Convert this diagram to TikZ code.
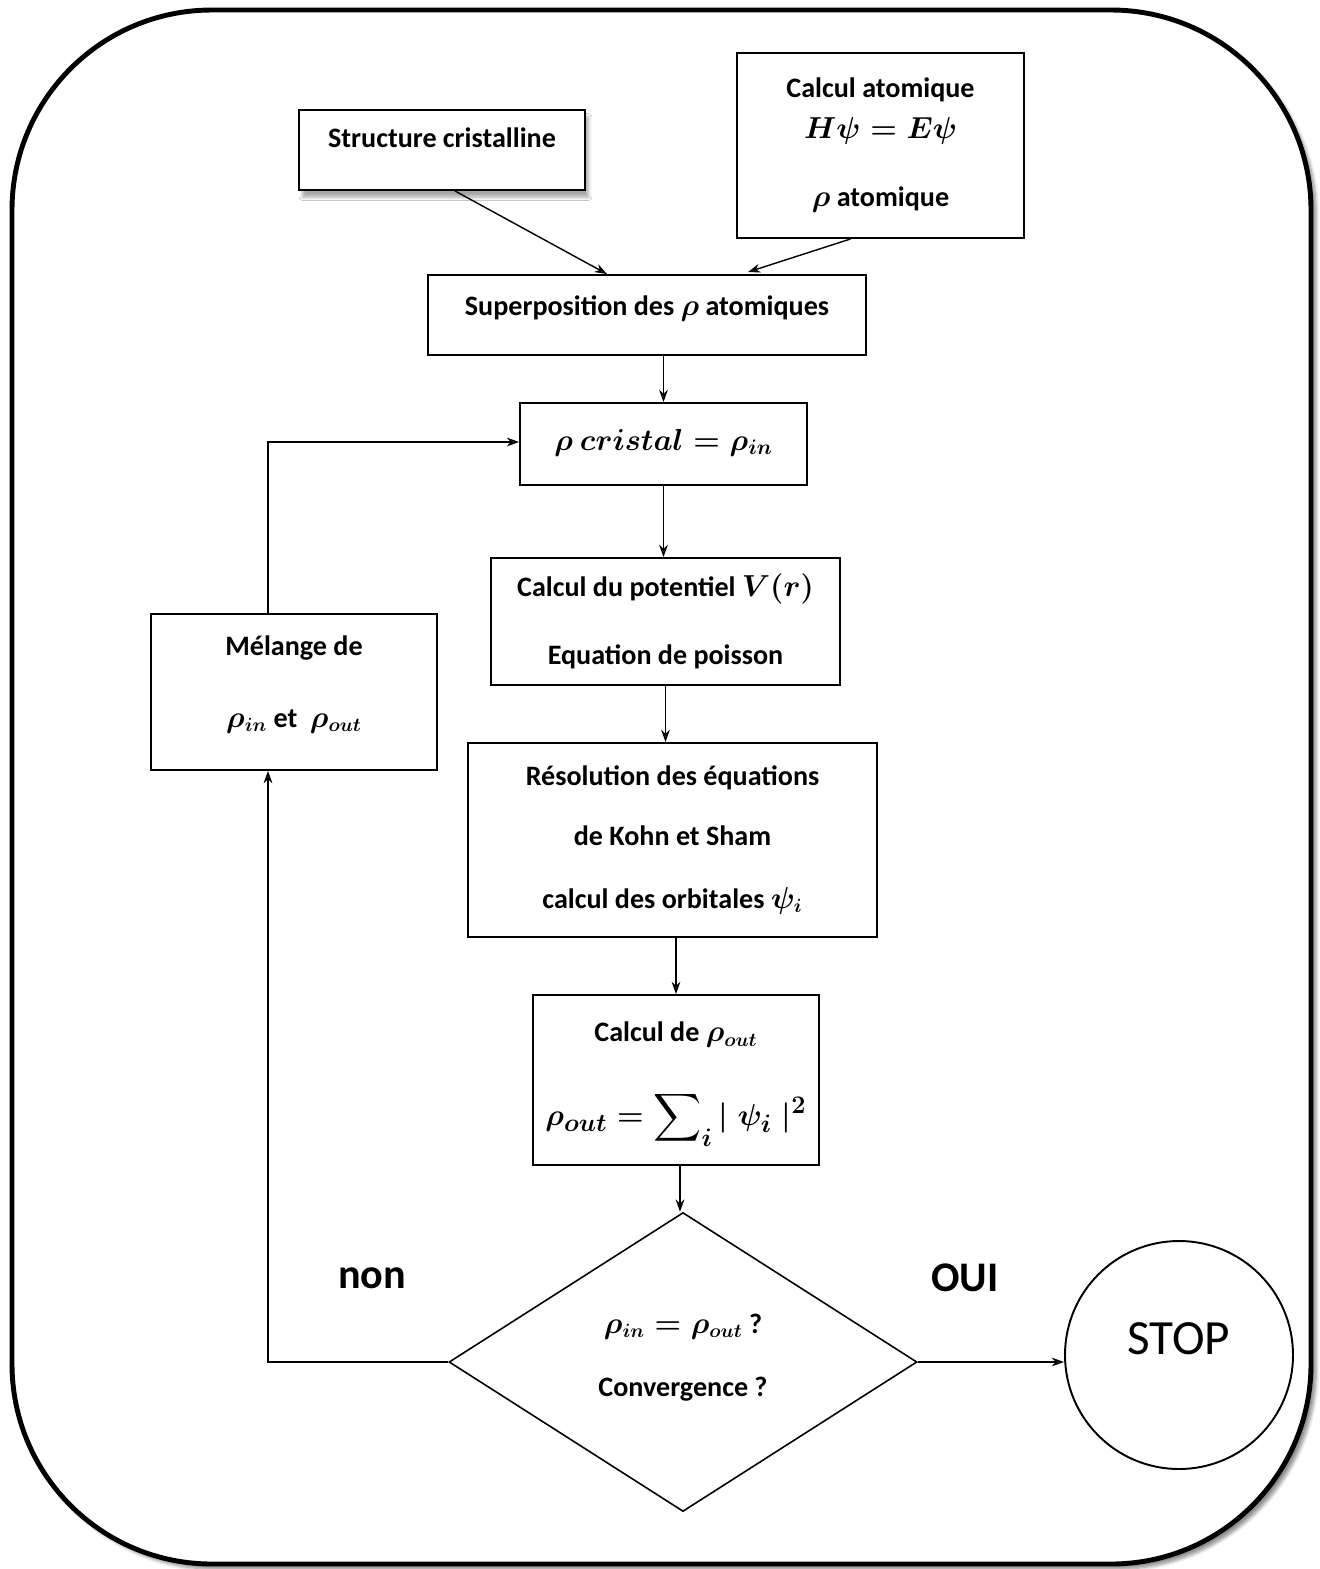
\documentclass[tikz,border=0pt]{standalone}
\usepackage{amsmath, amssymb}
\usepackage{fontspec}
\setmainfont{Carlito}
\usetikzlibrary{calc, positioning, shapes.geometric, arrows.meta, shadows.blur}

% size in pixels of the reference
\newcommand{\pxl}[1]{#1*0.02cm}

\begin{document}
\begin{tikzpicture}[
			x=0.02cm, y=-0.02cm,
			font=\bfseries\boldmath\fontsize{16}{19}\selectfont,
			% Node styles
			stepBox/.style={rectangle, draw=black, line width=1.1pt, fill=white, align=center, inner sep=0pt},
			shadowBox/.style={stepBox, blur shadow={shadow xshift=2pt, shadow yshift=-4pt, shadow opacity=35, shadow blur steps=6}},
			testNode/.style={diamond, draw=black, line width=0.9pt, fill=white, align=center, inner sep=0pt},
			stopNode/.style={circle, draw=black, line width=1.1pt, fill=white, inner sep=0pt, align=center, font=\mdseries\fontsize{28}{32}\selectfont},
			answerText/.style={font=\bfseries\fontsize{24}{28}\selectfont},
			% Line styles
			flowArrow/.style={-{Stealth[length=7pt, width=5pt]}, line width=0.8pt},
			outerFrame/.style={draw=black, line width=2.8pt, fill=white, rounded corners=4cm,
				blur shadow={shadow xshift=3pt, shadow yshift=-3pt, shadow opacity=45, shadow blur steps=6}}
			]
			
			\useasboundingbox (0,0) rectangle (1319,1569);
			
			% =========================================================
			% 1. FRAME
			% =========================================================
			
			\path[outerFrame] (12,10) rectangle (1311,1564);
			
			% =========================================================
			% 2. STARTING DENSITY
			% =========================================================
			
			\node[shadowBox, minimum width=\pxl{286}, minimum height=\pxl{80}] (struct) at (442,150) {Structure cristalline\\[-5pt]};
			\node[stepBox, minimum width=\pxl{287}, minimum height=\pxl{185}] (atom) at (880.5,145.5)
				{Calcul atomique\\[4pt] $H\psi = E\psi$\\[20pt] $\rho$ atomique};
			\node[stepBox, minimum width=\pxl{438}, minimum height=\pxl{80}] (super) at (647,315) {Superposition des $\rho$ atomiques\\[-8pt]};
			\node[stepBox, minimum width=\pxl{287}, minimum height=\pxl{82}] (rho) at (663.5,444)
				{\fontsize{18}{22}\selectfont $\rho\ cristal = \rho_{in}$\\[-14pt]};
			
			% =========================================================
			% 3. SELF-CONSISTENT CYCLE
			% =========================================================
			
			\node[stepBox, minimum width=\pxl{349}, minimum height=\pxl{127}] (pot) at (665.5,621.5)
				{Calcul du potentiel $V(r)$\\[20pt] Equation de poisson};
			\node[stepBox, minimum width=\pxl{409}, minimum height=\pxl{194}] (res) at (672.5,840)
				{Résolution des équations\\[15pt] de Kohn et Sham\\[17pt] calcul des orbitales $\psi_i$};
			\node[stepBox, minimum width=\pxl{286}, minimum height=\pxl{170}] (rout) at (676,1080)
				{Calcul de $\rho_{out}$\\[24pt] \fontsize{19}{22}\selectfont $\rho_{out} = \displaystyle\sum\nolimits_i |\;\psi_i\;|^2$\\[-12pt]};
			\node[stepBox, minimum width=\pxl{286}, minimum height=\pxl{156}] (mix) at (294,692)
				{Mélange de\\[22pt] $\rho_{in}$ et \ $\rho_{out}$\\[-7pt]};
			
			\node[testNode, minimum width=\pxl{468}, minimum height=\pxl{299}] (conv) at (683,1362)
				{$\rho_{in} = \rho_{out}$ ?\\[17pt] Convergence ?\\[-11pt]};
			\node[stopNode, minimum size=\pxl{228}] (stop) at (1179,1355) {STOP\\[-13pt]};
			
			\node[answerText] (non) at (372,1278) {non};
			\node[answerText] (oui) at (965,1278) {OUI};
			
			% =========================================================
			% 4. CONNECTORS
			% =========================================================
			
			\draw[flowArrow] ($(struct.south)+(13,0)$) -- ($(super.north)+(-40,0)$);
			\draw[flowArrow] ($(atom.south)+(-30,0)$) -- ($(super.north)+(101,-2)$);
			\draw[flowArrow] (super.south -| rho.north) -- (rho.north);
			\draw[flowArrow] (rho.south) -- (rho.south |- pot.north);
			\draw[flowArrow] (pot.south) -- (pot.south |- res.north);
			\draw[flowArrow] (rout.north |- res.south) -- (rout.north);
			\draw[flowArrow] ($(rout.south)+(4,0)$) -- ($(conv.north)+(-3,0)$);
			
			% loop back when not converged
			\coordinate (loopBot) at ($(mix.south)+(-26,0)$);
			\coordinate (loopTop) at ($(mix.north)+(-26,0)$);
			\draw[flowArrow] (conv.west) -| (loopBot);
			\draw[flowArrow] (loopTop) |- ($(rho.west)+(0,-2)$);
			
			% converged
			\draw[flowArrow] (conv.east) -- (conv.east -| stop.west);
			
		\end{tikzpicture}
\end{document}
